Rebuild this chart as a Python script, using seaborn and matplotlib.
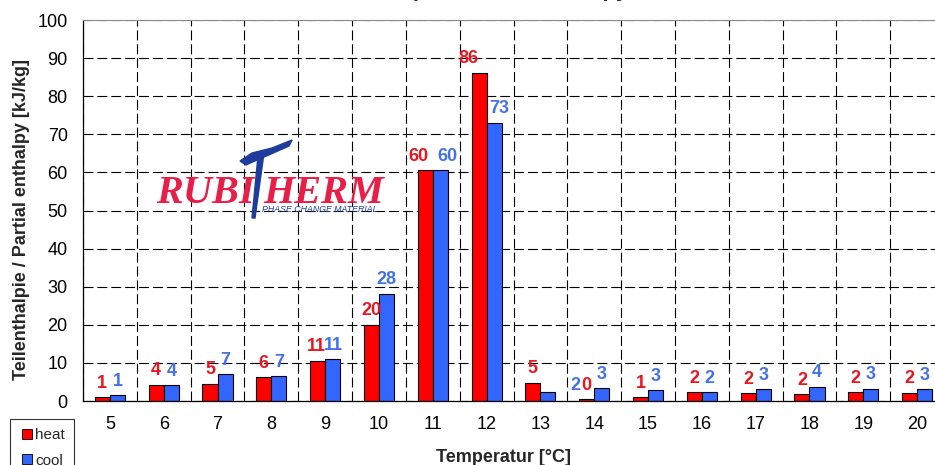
import numpy as np
import pandas as pd
import seaborn as sns
import matplotlib.pyplot as plt
from matplotlib.lines import Line2D
from matplotlib.patches import Polygon

# values
temps = [5, 6, 7, 8, 9, 10, 11, 12, 13, 14, 15, 16, 17, 18, 19, 20]
heat = [1.0, 4.3, 4.5, 6.2, 10.5, 20.0, 60.5, 86.2, 4.8, 0.5, 1.0, 2.3, 2.0, 1.8, 2.3, 2.1]
cool = [1.5, 4.1, 7.0, 6.5, 11.0, 28.2, 60.5, 73.0, 2.4, 3.3, 2.8, 2.3, 3.1, 3.8, 3.2, 3.1]
heat_labels = ['1', '4', '5', '6', '11', '20', '60', '86', '5', '0', '1', '2', '2', '2', '2', '2']
cool_labels = ['1', '4', '7', '7', '11', '28', '60', '73', '', '3', '3', '2', '3', '4', '3', '3']

df = pd.DataFrame({
    'temp': temps * 2,
    'value': heat + cool,
    'series': ['heat'] * len(temps) + ['cool'] * len(temps),
})

sns.set_style('white')
plt.rcParams['font.family'] = ['Liberation Sans', 'DejaVu Sans']

W, H = 935, 465
fig = plt.figure(figsize=(W / 100, H / 100), dpi=100)
ax = fig.add_axes([83 / W, 1 - 401 / H, (944 - 83) / W, (401 - 20) / H])

bar_red = '#FF0000'
bar_blue = '#3366FF'
lab_red = '#E8161E'
lab_blue = '#4472E6'

sns.barplot(data=df, x='temp', y='value', hue='series', order=temps,
            palette=[bar_red, bar_blue], saturation=1, width=0.56,
            edgecolor='black', linewidth=0.8, errorbar=None, legend=False, ax=ax)

ax.set_xlim(-0.5, len(temps) - 0.5)
ax.set_ylim(0, 100)
ax.set_yticks(range(0, 101, 10))
ax.set_xticks(np.arange(-0.5, len(temps), 1), minor=True)
ax.set_axisbelow(True)

dash = (0, (9, 3.5))
ax.yaxis.grid(True, linestyle=dash, color='black', linewidth=0.8)
ax.xaxis.grid(True, which='minor', linestyle=dash, color='black', linewidth=0.8)
ax.xaxis.grid(False, which='major')

ax.tick_params(axis='x', which='major', length=0, pad=11, labelsize=13, colors='black')
ax.tick_params(axis='x', which='minor', length=6, width=0.8, direction='out', color='black')
ax.tick_params(axis='y', length=5, width=0.8, direction='out', pad=6, labelsize=13, colors='black')

for side in ['left', 'bottom']:
    ax.spines[side].set_color('black')
    ax.spines[side].set_linewidth(0.9)
ax.spines['top'].set_color('#8c8c8c')
ax.spines['right'].set_visible(False)
ax.set_xlabel('')
ax.set_ylabel('')

# data labels, with a few sideways nudges (in pixels) where the reference spreads them
heat_bars, cool_bars = ax.containers[0], ax.containers[1]
nudge_heat = {11: -7, 12: -11, 9: -1}
nudge_cool = {11: 7, 12: 5, 9: 1}
for bars, labels, colour, nudge in ((heat_bars, heat_labels, lab_red, nudge_heat),
                                    (cool_bars, cool_labels, lab_blue, nudge_cool)):
    for t, bar, lab in zip(temps, bars, labels):
        ax.annotate(lab, (bar.get_x() + bar.get_width() / 2, bar.get_height()),
                    xytext=(nudge.get(t, 0) * 0.72, 4), textcoords='offset points',
                    ha='center', va='bottom', color=colour, fontsize=13,
                    fontweight='bold')
# stray blue label sitting next to the "0" at 14 degC
b14 = heat_bars[temps.index(14)]
ax.annotate('2', (b14.get_x(), b14.get_height()), xytext=(-3, 4),
            textcoords='offset points', ha='center', va='bottom',
            color=lab_blue, fontsize=13, fontweight='bold')

# axis titles
fig.text(22 / W, 1 - 219 / H, 'Teilenthalpie / Partial enthalpy [kJ/kg]',
         rotation=90, ha='center', va='center', fontsize=13, fontweight='bold')
fig.text(503 / W, 1 - 457 / H, 'Temperatur [°C]', ha='center', va='center',
         fontsize=13, fontweight='bold')

# chart title, cut off by the top edge of the picture
fig.text(470 / W, 1 + 4 / H, 'Teilenthalpie / Partial enthalpy', ha='center',
         va='baseline', fontsize=16, fontweight='bold')

# legend
handles = [Line2D([], [], marker='s', linestyle='none', markersize=7,
                  markerfacecolor=c, markeredgecolor='black', markeredgewidth=0.6)
           for c in (bar_red, bar_blue)]
leg = fig.legend(handles, ['heat', 'cool'], loc='upper left',
                 bbox_to_anchor=(10 / W, 1 - 419 / H), frameon=True, fancybox=False,
                 edgecolor='black', fontsize=11, handlelength=1.0,
                 handletextpad=0.05, labelspacing=0.75, borderpad=0.6,
                 borderaxespad=0)
leg.get_frame().set_linewidth(0.8)


# logo
def px(x, y):
    return (x / W, 1 - y / H)


logo_red = '#E81E48'
logo_blue = '#1E3C9B'
fig.text(*px(156, 203), 'RUBI', color=logo_red, fontsize=29, fontweight='bold',
         style='italic', family='Liberation Serif', ha='left', va='baseline')
fig.text(*px(263, 203), 'HERM', color=logo_red, fontsize=29, fontweight='bold',
         style='italic', family='Liberation Serif', ha='left', va='baseline')
stem = Polygon([px(258, 156), px(264, 153), px(255, 218), px(252, 218)],
               closed=True, transform=fig.transFigure, color=logo_blue)
bar_t = Polygon([px(240, 161), px(252, 153), px(272, 148), px(292, 140),
                 px(289, 146), px(271, 154), px(257, 160), px(246, 165)],
                closed=True, transform=fig.transFigure, color=logo_blue)
fig.add_artist(stem)
fig.add_artist(bar_t)
fig.text(*px(262, 209), 'PHASE CHANGE MATERIAL', color=logo_blue, fontsize=6.3,
         style='italic', ha='left', va='center')

fig.savefig('out.png', dpi=100)
